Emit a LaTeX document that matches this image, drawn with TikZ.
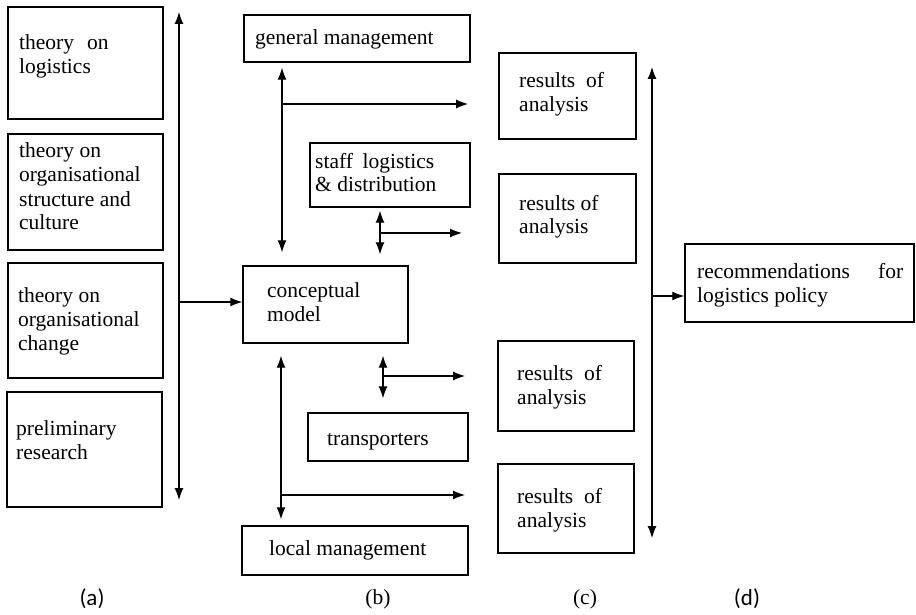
\documentclass[tikz,border=0pt]{standalone}
\usepackage{fontspec}
\setmainfont{Liberation Serif}
\newfontfamily\capfont{Carlito}
\usetikzlibrary{arrows.meta}
% serif face for the box texts
\newcommand\boxfont{\rmfamily\fontsize{21.5}{24}\selectfont}
\newcommand\rows[1]{\begin{tabular}[t]{@{}l@{}}#1\end{tabular}}

\tikzset{
  frame/.style={draw, rectangle, line width=1.4pt, inner sep=0pt},
  txt/.style={anchor=base west, inner sep=0pt, font=\boxfont},
  arr/.style={-{Latex[length=12pt,width=9pt]}, line width=1.2pt},
  dbl/.style={{Latex[length=12pt,width=9pt]}-{Latex[length=12pt,width=9pt]}, line width=1.2pt},
  sublabel/.style={inner sep=0pt, font=\capfont\fontsize{23}{26}\selectfont},
  sublabelserif/.style={inner sep=0pt, font=\boxfont},
}

\begin{document}
\begin{tikzpicture}[x=1pt,y=-1pt]
\useasboundingbox (0,0) rectangle (916,615);

% ---- column (a): sources
\node[frame, minimum width=155pt, minimum height=112pt] (t1) at (85.5,63) {};
\node[frame, minimum width=155pt, minimum height=116pt] (t2) at (85.5,192) {};
\node[frame, minimum width=155pt, minimum height=115pt] (t3) at (85.5,320.5) {};
\node[frame, minimum width=155pt, minimum height=115pt] (t4) at (84.5,449.5) {};
\node[txt] (t1txt) at (19,50) {\rows{theory\hspace{0.6em}on\\logistics}};
\node[txt] (t2txt) at (19,158) {\rows{theory on\\organisational\\structure and\\culture}};
\node[txt] (t3txt) at (18,302) {\rows{theory on\\organisational\\change}};
\node[txt] (t4txt) at (16,435) {\rows{preliminary\\research}};

% ---- column (b): organisation
\node[frame, minimum width=226pt, minimum height=47pt] (gm) at (357,38.5) {};
\node[frame, minimum width=160pt, minimum height=64pt] (st) at (390,175) {};
\node[frame, minimum width=165pt, minimum height=77pt] (cm) at (325.5,304.5) {};
\node[frame, minimum width=160pt, minimum height=48pt] (tr) at (388,437) {};
\node[frame, minimum width=226pt, minimum height=49pt] (lm) at (355,550.5) {};
\node[txt] (gmtxt) at (255,45) {general management};
\node[txt] (sttxt) at (315,168) {\rows{staff\hspace{0.45em}logistics\\\&\ distribution}};
\node[txt] (cmtxt) at (267,297) {\rows{conceptual\\model}};
\node[txt] (trtxt) at (327,445) {transporters};
\node[txt] (lmtxt) at (269,555) {local management};

% ---- column (c): analyses
\node[frame, minimum width=137pt, minimum height=86pt] (r1) at (567.5,96) {};
\node[frame, minimum width=137pt, minimum height=89pt] (r2) at (567.5,218.5) {};
\node[frame, minimum width=136pt, minimum height=90pt] (r3) at (566,386) {};
\node[frame, minimum width=136pt, minimum height=89pt] (r4) at (566,508.5) {};
\node[txt] (r1txt) at (519,88) {\rows{results\hspace{0.5em}of\\analysis}};
\node[txt] (r2txt) at (519,210) {\rows{results of\\analysis}};
\node[txt] (r3txt) at (517,380) {\rows{results\hspace{0.5em}of\\analysis}};
\node[txt] (r4txt) at (517,503) {\rows{results\hspace{0.5em}of\\analysis}};

% ---- column (d): outcome
\node[frame, minimum width=229pt, minimum height=78pt] (rec) at (799.5,283) {};
\node[txt] (rectxt) at (697,278) {\rows{\hbox to 206pt{recommendations\hfill for}\\logistics policy}};

% ---- connectors, column (a) to (b)
\coordinate (aTop) at (179,12);
\coordinate (aBot) at (179,500);
\coordinate (aJoin) at (179,302);
\draw[dbl] (aTop) -- (aBot);
\draw[arr] (aJoin) -- (aJoin -| cm.west);

% ---- connectors inside column (b)
\coordinate (v1) at (282,0);
\coordinate (v2) at (380,0);
\coordinate (v3) at (383,0);
\coordinate (v4) at (281,0);
\draw[dbl] ([yshift=-5pt]gm.south -| v1) -- ([yshift=13pt]cm.north -| v1);
\draw[dbl] ([yshift=-3pt]st.south -| v2) -- ([yshift=11pt]cm.north -| v2);
\draw[dbl] ([yshift=-12pt]cm.south -| v3) -- ([yshift=14pt]tr.north -| v3);
\draw[dbl] ([yshift=-12pt]cm.south -| v4) -- ([yshift=6pt]lm.north -| v4);

% ---- branches towards column (c)
\coordinate (b1) at (282,104);
\coordinate (e1) at (468,104);
\coordinate (b2) at (380,233);
\coordinate (e2) at (462,233);
\coordinate (b3) at (383,376);
\coordinate (e3) at (465,376);
\coordinate (b4) at (281,495);
\coordinate (e4) at (465,495);
\draw[arr] (b1) -- (e1);
\draw[arr] (b2) -- (e2);
\draw[arr] (b3) -- (e3);
\draw[arr] (b4) -- (e4);

% ---- column (c) to (d)
\coordinate (cTop) at (652,67);
\coordinate (cBot) at (652,538);
\coordinate (cJoin) at (652,296);
\draw[dbl] (cTop) -- (cBot);
\draw[arr] (cJoin) -- (cJoin -| rec.west);

% ---- column captions
\node[sublabel] (capa) at (92,599) {(a)};
\node[sublabelserif] (capb) at (378,599) {(b)};
\node[sublabelserif] (capc) at (585,599) {(c)};
\node[sublabel] (capd) at (747,599) {(d)};
\end{tikzpicture}
\end{document}
